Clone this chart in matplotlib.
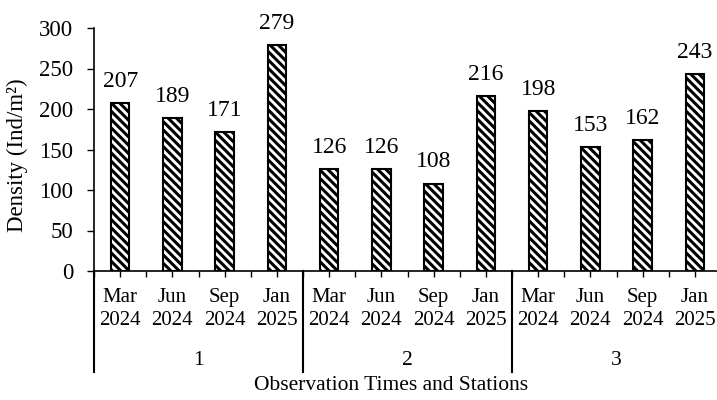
import matplotlib
matplotlib.use('Agg')
import matplotlib.pyplot as plt
import matplotlib.transforms as mtransforms
import numpy as np

plt.rcParams['font.family'] = ['Liberation Serif', 'DejaVu Serif']
plt.rcParams['hatch.linewidth'] = 2.2

stations = ['1', '2', '3']
times = ['Mar\n2024', 'Jun\n2024', 'Sep\n2024', 'Jan\n2025']
density = [207, 189, 171, 279, 126, 126, 108, 216, 198, 153, 162, 243]

fig = plt.figure(figsize=(7.17, 4.0), dpi=100)
ax = fig.add_axes([94 / 717, 129 / 400, 627 / 717, 243 / 400])

x = np.arange(len(density))
bars = ax.bar(x, density, width=0.35, color='white', edgecolor='black',
              linewidth=1.5, hatch='\\\\\\\\')

for xi, v in zip(x, density):
    ax.annotate(str(v), (xi, v), textcoords='offset points', xytext=(0, 8),
                ha='center', va='bottom', fontsize=17)

ax.set_xlim(-0.5, len(density) - 0.5)
ax.set_ylim(0, 300)
ax.set_yticks(range(0, 301, 50))
ax.tick_params(axis='y', labelsize=16.5, length=5, width=1, direction='out', pad=10)
ax.set_xticks(np.arange(-0.5, len(density) - 0.5, 0.5))
ax.set_xticklabels([])
ax.tick_params(axis='x', length=4, width=1, direction='out')

for s in ['top', 'right']:
    ax.spines[s].set_visible(False)
for s in ['left', 'bottom']:
    ax.spines[s].set_linewidth(1.2)

trans = mtransforms.blended_transform_factory(ax.transData, ax.transAxes)

# month/year labels
for i in range(len(density)):
    ax.text(x[i], -0.07, times[i % len(times)], transform=trans,
            ha='center', va='top', fontsize=15, linespacing=1.3)

# station labels and separators
n = len(times)
for g, st in enumerate(stations):
    ax.text(g * n + (n - 1) / 2, -0.37, st, transform=trans,
            ha='center', va='center', fontsize=15.5)
    ax.plot([g * n - 0.5, g * n - 0.5], [0, -0.415], transform=trans,
            color='black', linewidth=1.5, clip_on=False)

fig.text(391 / 717, 1 - 386 / 400, 'Observation Times and Stations',
         ha='center', va='center', fontsize=15.5)
fig.text(17 / 717, 1 - 155 / 400, 'Density (Ind/m²)', rotation=90,
         ha='center', va='center', fontsize=16.5)

fig.savefig('out.png', dpi=100)
